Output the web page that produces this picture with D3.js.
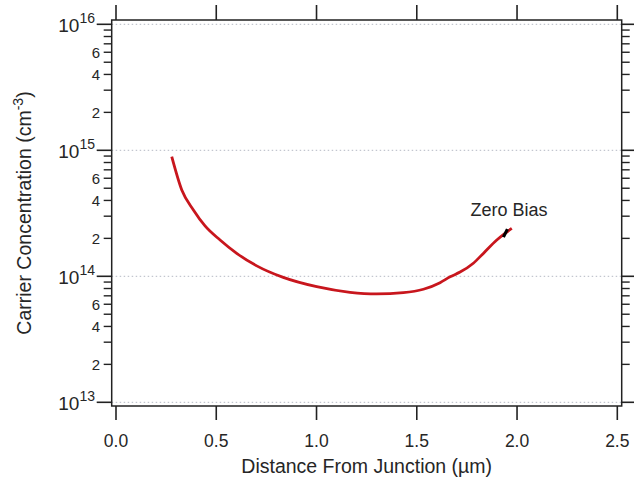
<!DOCTYPE html>
<html>
<head>
<meta charset="utf-8">
<script src="https://cdn.jsdelivr.net/npm/d3@7"></script>
<style>
	body { margin: 0; background: #fff; }
	text { font-family: "Liberation Sans", Arial, sans-serif; fill: #262626; }
</style>
</head>
<body>
<svg id="chart" width="634" height="479"></svg>
<script>

//****************************************************************************************************************************//
// Data

var distance = [0.278, 0.328, 0.386, 0.444, 0.519, 0.602, 0.702, 0.834, 1.001, 1.167, 1.300, 1.433, 1.533, 1.616, 1.666,
				1.716, 1.782, 1.832, 1.899, 1.940, 1.974];
var concentration = [8.9e14, 4.84e14, 3.36e14, 2.51e14, 1.94e14, 1.52e14, 1.21e14, 9.8e13, 8.27e13, 7.46e13, 7.24e13,
				7.41e13, 7.89e13, 8.9e13, 9.9e13, 1.08e14, 1.27e14, 1.52e14, 1.94e14, 2.19e14, 2.40e14];
var xTicks = [0, 0.5, 1.0, 1.5, 2.0, 2.5];
var decades = [13, 14, 15, 16];
var minorLabels = [2, 4, 6];
var markerPoint = { x: 1.942, y: 2.2e14, label: "Zero Bias" };

//****************************************************************************************************************************//
// Frame

var width = 634, height = 479;
var frame = { left: 111.7, right: 621.7, top: 20, bottom: 406 };

var svg = d3.select("#chart");

var x = d3.scaleLinear().domain([0, 2.5]).range([116, 617.3]);
var y = d3.scaleLog().domain([1e13, 1e16]).range([402.3, 24.3]);

var minorTicks = [];
decades.slice(0, 3).forEach(function(d){
	for (var m = 2; m <= 9; m++) minorTicks.push(m * Math.pow(10, d));
});
var majorTicks = decades.map(function(d){ return Math.pow(10, d); });

// gridlines
svg.selectAll(".grid")
	.data(majorTicks)
	.enter().append("line")
	.attr("x1", frame.left)
	.attr("x2", frame.right)
	.attr("y1", function(d){ return y(d); })
	.attr("y2", function(d){ return y(d); })
	.attr("stroke", "#b4b8c4")
	.attr("stroke-width", 1)
	.attr("stroke-dasharray", "1.5,2.5");

svg.append("rect")
	.attr("x", frame.left)
	.attr("y", frame.top)
	.attr("width", frame.right - frame.left)
	.attr("height", frame.bottom - frame.top)
	.attr("fill", "none")
	.attr("stroke", "#222")
	.attr("stroke-width", 1.5);

//****************************************************************************************************************************//
// X ticks (bottom and top)

svg.selectAll(".xb")
	.data(xTicks)
	.enter().append("line")
	.attr("x1", function(d){ return x(d); })
	.attr("x2", function(d){ return x(d); })
	.attr("y1", frame.bottom)
	.attr("y2", frame.bottom + 14)
	.attr("stroke", "#222")
	.attr("stroke-width", 1.6);

svg.selectAll(".xt")
	.data(xTicks)
	.enter().append("line")
	.attr("x1", function(d){ return x(d); })
	.attr("x2", function(d){ return x(d); })
	.attr("y1", frame.top)
	.attr("y2", frame.top - 15)
	.attr("stroke", "#222")
	.attr("stroke-width", 1.6);

svg.selectAll(".xl")
	.data(xTicks)
	.enter().append("text")
	.attr("x", function(d){ return x(d); })
	.attr("y", 447)
	.attr("text-anchor", "middle")
	.style("font-size", "17.5px")
	.text(function(d){ return d.toFixed(1); });

svg.append("text")
	.attr("x", (frame.left + frame.right) / 2)
	.attr("y", 473)
	.attr("text-anchor", "middle")
	.style("font-size", "19.5px")
	.text("Distance From Junction (\u00b5m)");

//****************************************************************************************************************************//
// Y ticks (left and right)

function yTicks(xEdge, dir){
	svg.selectAll(null)
		.data(majorTicks)
		.enter().append("line")
		.attr("x1", xEdge)
		.attr("x2", xEdge + dir * 15)
		.attr("y1", function(d){ return y(d); })
		.attr("y2", function(d){ return y(d); })
		.attr("stroke", "#222")
		.attr("stroke-width", 1.6);

	svg.selectAll(null)
		.data(minorTicks)
		.enter().append("line")
		.attr("x1", xEdge)
		.attr("x2", xEdge + dir * 8)
		.attr("y1", function(d){ return y(d); })
		.attr("y2", function(d){ return y(d); })
		.attr("stroke", "#222")
		.attr("stroke-width", 1.4);
}
yTicks(frame.left, -1);
yTicks(frame.right, 1);

var majorText = svg.selectAll(".yl")
	.data(decades)
	.enter().append("text")
	.attr("x", 95)
	.attr("y", function(d){ return y(Math.pow(10, d)) + 8; })
	.attr("text-anchor", "end")
	.style("font-size", "19px");

majorText.append("tspan").text("10");
majorText.append("tspan")
	.attr("dy", -9)
	.style("font-size", "14px")
	.text(function(d){ return d; });

svg.selectAll(".ym")
	.data(minorTicks.filter(function(d){
		var m = Math.round(d / Math.pow(10, Math.floor(Math.log10(d))));
		return minorLabels.indexOf(m) >= 0;
	}))
	.enter().append("text")
	.attr("x", 100)
	.attr("y", function(d){ return y(d) + 5.5; })
	.attr("text-anchor", "end")
	.style("font-size", "15px")
	.text(function(d){ return Math.round(d / Math.pow(10, Math.floor(Math.log10(d)))); });

var yLabel = svg.append("text")
	.attr("transform", "translate(31," + ((frame.top + frame.bottom) / 2) + ") rotate(-90)")
	.attr("text-anchor", "middle")
	.style("font-size", "19.5px");
yLabel.append("tspan").text("Carrier Concentration (cm");
yLabel.append("tspan").attr("dy", -8).style("font-size", "14px").text("-3");
yLabel.append("tspan").attr("dy", 8).text(")");

//****************************************************************************************************************************//
// Curve

var line = d3.line()
	.x(function(d){ return x(d[0]); })
	.y(function(d){ return y(d[1]); })
	.curve(d3.curveMonotoneX);

svg.append("path")
	.datum(d3.zip(distance, concentration))
	.attr("d", line)
	.attr("fill", "none")
	.attr("stroke", "#c8161d")
	.attr("stroke-width", 2.8);

var mx = x(markerPoint.x), my = y(markerPoint.y);
svg.append("line")
	.attr("x1", mx - 2)
	.attr("y1", my + 4)
	.attr("x2", mx + 2)
	.attr("y2", my - 4)
	.attr("stroke", "#000")
	.attr("stroke-width", 3.2);

svg.append("text")
	.attr("x", 509)
	.attr("y", 216)
	.attr("text-anchor", "middle")
	.style("font-size", "18px")
	.text(markerPoint.label);

</script>
</body>
</html>
